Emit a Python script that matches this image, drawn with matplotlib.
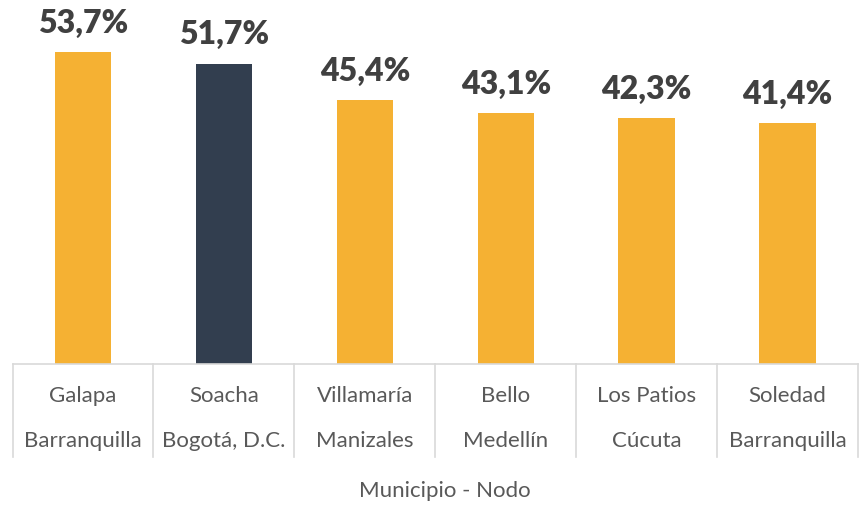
import numpy as np
import matplotlib.pyplot as plt
import matplotlib.transforms as mtransforms

municipios = ['Galapa', 'Soacha', 'Villamaría', 'Bello', 'Los Patios', 'Soledad']
nodos = ['Barranquilla', 'Bogotá, D.C.', 'Manizales', 'Medellín', 'Cúcuta', 'Barranquilla']
valores = [53.7, 51.7, 45.4, 43.1, 42.3, 41.4]
colores = ['#F5B133', '#323E4F', '#F5B133', '#F5B133', '#F5B133', '#F5B133']

plt.rcParams['font.family'] = ['Lato', 'DejaVu Sans']

fig = plt.figure(figsize=(8.66, 5.06), dpi=100)
ax = fig.add_axes([12.5/866, 1-365/506, (858-12.5)/866, 365/506])

x = np.arange(len(valores))
ax.bar(x, valores, width=0.4, color=colores)
ax.set_xlim(-0.5, len(valores)-0.5)
ax.set_ylim(0, 62.8)

for xi, v in zip(x, valores):
    ax.text(xi, v + 2.6, f'{v:.1f}%'.replace('.', ','), ha='center', va='bottom',
            fontsize=23, fontweight='heavy', color='#404040')

for s in ['top', 'right', 'left']:
    ax.spines[s].set_visible(False)
ax.spines['bottom'].set_color('#d9d9d9')
ax.spines['bottom'].set_linewidth(1.2)
ax.set_xticks([])
ax.set_yticks([])

# cajas de categoria debajo del eje
trans = mtransforms.blended_transform_factory(ax.transData, fig.transFigure)
for b in np.arange(-0.5, len(valores)):
    ax.plot([b, b], [1-365/506, 1-458/506], color='#d9d9d9', lw=1.2,
            transform=trans, clip_on=False)
for xi, m, n in zip(x, municipios, nodos):
    ax.text(xi, 1-396/506, m, ha='center', va='center', fontsize=16,
            color='#595959', transform=trans)
    ax.text(xi, 1-441/506, n, ha='center', va='center', fontsize=16,
            color='#595959', transform=trans)

fig.text(445/866, 1-491/506, 'Municipio - Nodo', ha='center', va='center',
         fontsize=16, color='#595959')

fig.savefig('out.png', dpi=100)
